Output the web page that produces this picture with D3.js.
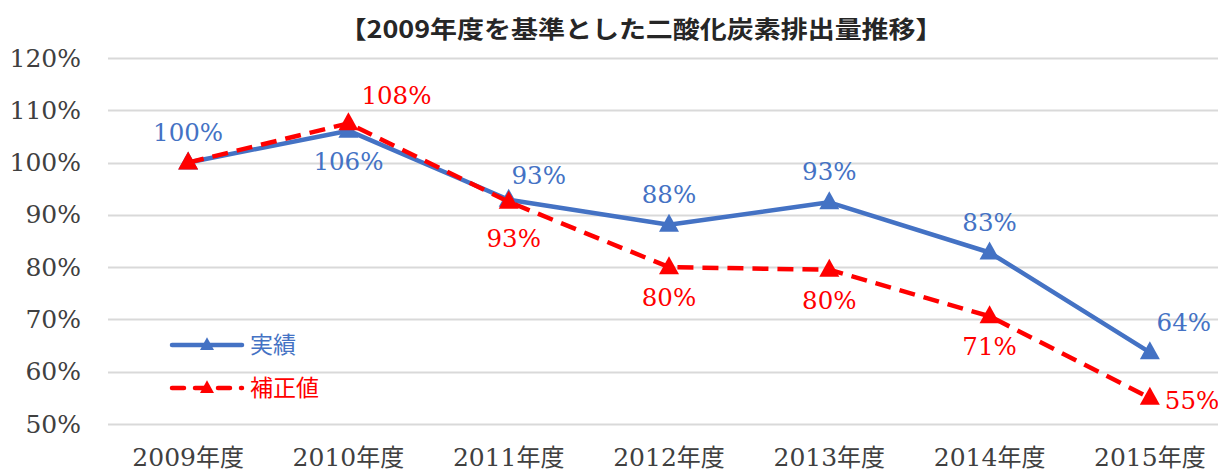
<!DOCTYPE html>
<html>
<head>
<meta charset="utf-8">
<script src="https://cdn.jsdelivr.net/npm/d3@7"></script>
<style>
  body { margin: 0; background: #fff; }
  svg { display: block; }
</style>
</head>
<body>
<div id="chart"></div>
<script>
const categories = ["2009年度", "2010年度", "2011年度", "2012年度", "2013年度", "2014年度", "2015年度"];
const actualValues = [1.0, 1.061, 0.929, 0.881, 0.924, 0.828, 0.637];
const correctedValues = [1.0, 1.075, 0.925, 0.80, 0.795, 0.706, 0.55];
const actualLabels = ["100%", "106%", "93%", "88%", "93%", "83%", "64%"];
const correctedLabels = ["100%", "108%", "93%", "80%", "80%", "71%", "55%"];
const yTicks = [0.5, 0.6, 0.7, 0.8, 0.9, 1.0, 1.1, 1.2];
const seriesNames = ["実績", "補正値"];
const title = "【2009年度を基準とした二酸化炭素排出量推移】";

const width = 1218;
const height = 474;
const margin = { left: 108, top: 58, right: -12, bottom: 50 };
const serif = "'DejaVu Serif', 'Liberation Serif', serif";
const cjk = "'Noto Sans CJK JP', sans-serif";

// where each data label sits relative to its point
const actualPlace = ["top", "bottom", "topright", "top", "top", "top", "topright"];
const correctedPlace = [null, "topright", "bottomleft", "bottom", "bottom", "bottom", "right"];

const svg = d3.select("#chart").append("svg").attr("width", width).attr("height", height);

const x = d3.scaleBand().domain(categories).range([margin.left, width - margin.right]).padding(0);
const y = d3.scaleLinear().domain([0.5, 1.2]).range([height - margin.bottom, margin.top]);
const cx = (i) => x(categories[i]) + x.bandwidth() / 2;

// title
svg.append("text")
  .attr("x", 641).attr("y", 38)
  .attr("text-anchor", "middle")
  .attr("textLength", 603)
  .attr("lengthAdjust", "spacingAndGlyphs")
  .style("font-family", "'Noto Sans CJK JP', sans-serif")
  .style("font-weight", "bold")
  .style("font-size", "24px")
  .attr("fill", "#262626")
  .text(title);

// gridlines
svg.append("g").selectAll("line").data(yTicks).enter().append("line")
  .attr("x1", margin.left).attr("x2", width)
  .attr("y1", (d) => Math.round(y(d)) + 0.5).attr("y2", (d) => Math.round(y(d)) + 0.5)
  .attr("stroke", "#d9d9d9").attr("stroke-width", 2);

// y axis labels
svg.append("g")
  .attr("transform", `translate(${margin.left},0)`)
  .call(d3.axisLeft(y).tickValues(yTicks).tickSize(0).tickPadding(27).tickFormat(d3.format(".0%")))
  .call((g) => g.select(".domain").remove())
  .selectAll("text")
  .style("font-family", serif).style("font-size", "25px").attr("fill", "#404040");

// x axis labels
svg.append("g")
  .attr("transform", `translate(0,${height - margin.bottom})`)
  .call(d3.axisBottom(x).tickSize(0).tickPadding(24))
  .call((g) => g.select(".domain").remove())
  .selectAll("text")
  .attr("fill", "#404040")
  .style("font-size", "25px")
  .each(function (d) {
    const t = d3.select(this).text("");
    t.append("tspan").style("font-family", serif).text(d.slice(0, 4));
    t.append("tspan").style("font-family", cjk).style("font-size", "24px").text(d.slice(4));
  });

const tri = (s) => `M0,${-s * 1.1}L${s},${s * 0.7}L${-s},${s * 0.7}Z`;

function drawSeries(values, color, dashed) {
  const line = d3.line().x((d, i) => cx(i)).y((d) => y(d));
  svg.append("path").datum(values)
    .attr("d", line)
    .attr("fill", "none")
    .attr("stroke", color)
    .attr("stroke-width", 4.5)
    .attr("stroke-linejoin", "round")
    .attr("stroke-dasharray", dashed ? "16,9" : null);
  svg.append("g").selectAll("path").data(values).enter().append("path")
    .attr("d", tri(10))
    .attr("transform", (d, i) => `translate(${cx(i)},${y(d)})`)
    .attr("fill", color);
}

drawSeries(actualValues, "#4472c4", false);
drawSeries(correctedValues, "#ff0000", true);

function drawLabels(values, labels, places, color) {
  const off = {
    top: [0, -22, "middle"],
    bottom: [0, 39, "middle"],
    topright: [30, -16, "middle"],
    bottomleft: [5, 45, "middle"],
    right: [15, 11, "start"],
  };
  values.forEach((v, i) => {
    const p = places[i];
    if (!p) return;
    let [dx, dy, anchor] = off[p];
    if (p === "topright" && i === 1) { dx = 48; dy = -19; }
    if (p === "topright" && i === 6) { dx = 34; dy = -21; }
    svg.append("text")
      .attr("x", cx(i) + dx).attr("y", y(v) + dy)
      .attr("text-anchor", anchor)
      .style("font-family", serif).style("font-size", "24.5px")
      .attr("fill", color)
      .text(labels[i]);
  });
}

drawLabels(actualValues, actualLabels, actualPlace, "#4472c4");
drawLabels(correctedValues, correctedLabels, correctedPlace, "#ff0000");

// legend
const legend = svg.append("g").attr("transform", "translate(172,345)");
[["#4472c4", false], ["#ff0000", true]].forEach(([color, dashed], i) => {
  const g = legend.append("g").attr("transform", `translate(0,${i * 43})`);
  g.append("line").attr("x1", 0).attr("x2", 70)
    .attr("stroke", color).attr("stroke-width", 4.5).attr("stroke-linecap", "round")
    .attr("stroke-dasharray", dashed ? "12,11" : null);
  g.append("path").attr("d", tri(7)).attr("transform", "translate(35,0)").attr("fill", color);
  g.append("text").attr("x", 78).attr("y", 8)
    .style("font-family", cjk).style("font-size", "23px")
    .attr("fill", color).text(seriesNames[i]);
});
</script>
</body>
</html>
